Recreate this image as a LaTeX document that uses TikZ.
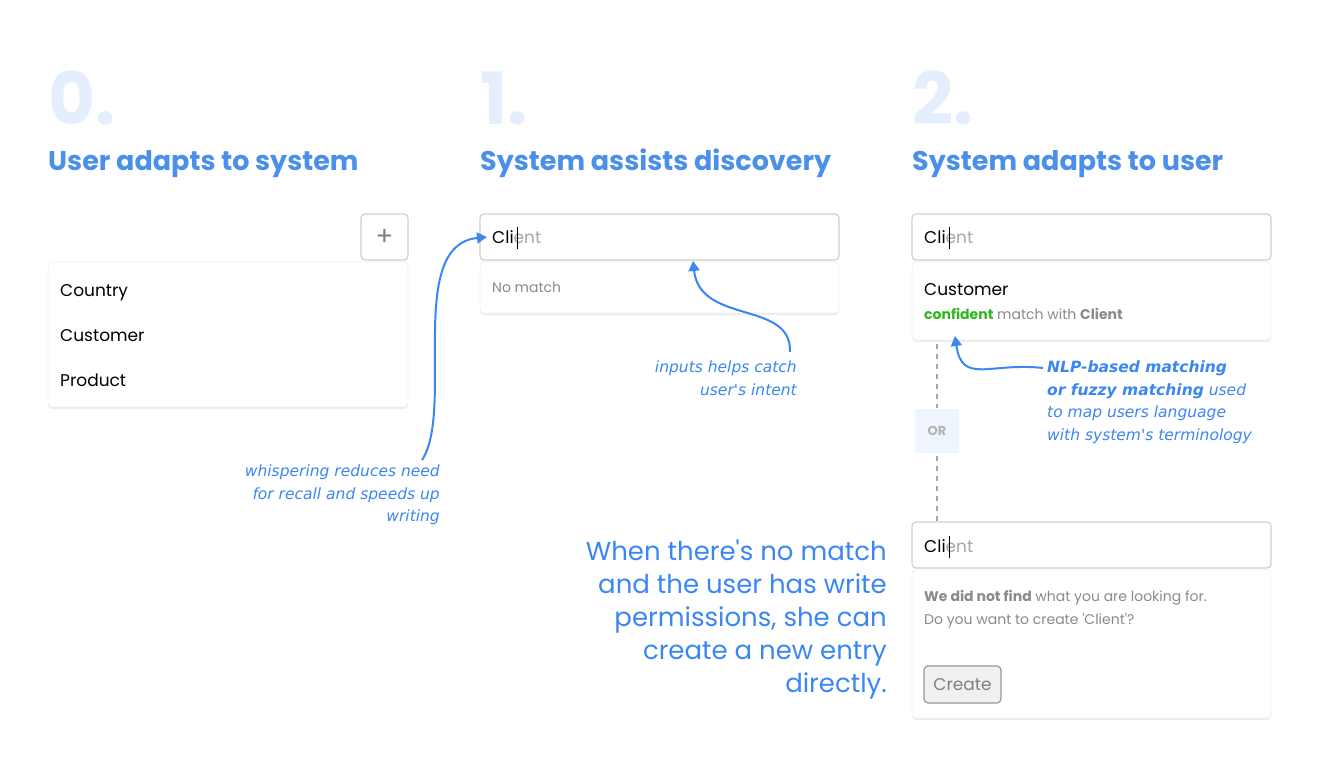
\documentclass[tikz,border=0pt]{standalone}
\usepackage{fontspec}
\setmainfont{Poppins}[Ligatures=TeXOff]
\newfontfamily\handfont{DejaVu Sans}[Ligatures=TeXOff]
\usetikzlibrary{shadows,arrows.meta}
\definecolor{headBlue}{HTML}{4A8FEA}
\definecolor{numBlue}{HTML}{E4EEFC}
\definecolor{penBlue}{HTML}{3A86F2}
\definecolor{frameGray}{HTML}{CFCFCF}
\definecolor{textGray}{HTML}{8A8A8A}
\definecolor{okGreen}{HTML}{2DB81E}
\begin{document}
\begin{tikzpicture}
[x=1pt,y=-1pt,
  bigNum/.style={anchor=base west,inner sep=0pt,text=numBlue,font=\fontsize{72}{72}\selectfont\bfseries},%
  heading/.style={anchor=base west,inner sep=0pt,text=headBlue,font=\fontsize{27}{27}\selectfont\bfseries},%
  inputBox/.style={draw=frameGray,line width=1.2pt,rounded corners=4pt,fill=white},%
  panel/.style={fill=white,draw=gray!12,line width=0.8pt,rounded corners=4pt,drop shadow={opacity=0.15,shadow xshift=0pt,shadow yshift=-2pt}},%
  item/.style={anchor=base west,inner sep=0pt,font=\fontsize{17}{17}\selectfont},%
  small/.style={anchor=base west,inner sep=0pt,text=textGray,font=\fontsize{14}{14}\selectfont},%
  note/.style={inner sep=0pt,text=penBlue,font=\fontsize{15.5}{22.5}\selectfont\handfont\itshape},%
  pen/.style={draw=penBlue,line width=2pt,-{Triangle[length=10pt,width=11pt]}},%
  orLine/.style={draw=gray!70,line width=2pt,dash pattern=on 5pt off 5pt}]
\useasboundingbox (0,0) rectangle (1320,768);
%% numbers and headings
\foreach \name/\x/\num/\txt in {zero/48/0/User adapts to system, one/480/1/System assists discovery, two/912/2/System adapts to user}
{
  \node[bigNum] (num\name) at (\x,124) {\num.};
  \node[heading] (head\name) at (\x,170) {\txt};
}
%% column 0
\draw[inputBox] (361,214) rectangle (408,260);
\node[text=gray,font=\fontsize{26}{26}\selectfont] (plus) at (384.5,237) {+};
\draw[panel] (48,262) rectangle (408,407);
\foreach \lbl/\y in {Country/296, Customer/341, Product/386}
{
  \node[item] (\lbl) at (60,\y) {\lbl};
}
%% column 1
\draw[inputBox] (480,214) rectangle (839,260);
\node[item] (inputOne) at (492,243) {Cli\textcolor{gray!70}{ent}};
\draw[line width=1pt] (517,227) -- (517,249);
\draw[panel] (480,262) rectangle (839,313);
\node[small] (nomatch) at (492,292) {No match};
\coordinate (whisperStart) at (422,460);
\coordinate (whisperEnd) at (487,237);
\draw[pen] (whisperStart) .. controls (455,410) and (405,245) .. (whisperEnd);
\node[note,align=right,anchor=north east] (whisper) at (440,465) {whispering reduces need\\for recall and speeds up\\writing};
\coordinate (catchStart) at (790,352);
\coordinate (catchEnd) at (693,261);
\draw[pen] (catchStart) .. controls (792,300) and (700,325) .. (catchEnd);
\node[note,align=right,anchor=north east] (catch) at (797,361) {inputs helps catch\\user's intent};
%% column 2
\draw[inputBox] (912,214) rectangle (1271,260);
\node[item] (inputTwo) at (924,243) {Cli\textcolor{gray!70}{ent}};
\draw[line width=1pt] (949,227) -- (949,249);
\draw[panel] (912,262) rectangle (1271,340);
\node[item] (customer) at (924,295) {Customer};
\node[small] (confident) at (924,319) {\textcolor{okGreen}{\bfseries confident} match with {\bfseries Client}};
\draw[orLine] (937,344) -- (937,408);
\fill[numBlue!60] (915,409) rectangle (959,453);
\node[text=gray!60,font=\fontsize{13}{13}\selectfont\bfseries] (or) at (937,431) {OR};
\draw[orLine] (937,456) -- (937,521);
\coordinate (nlpStart) at (1043,368);
\coordinate (nlpEnd) at (955,336);
\draw[pen] (nlpStart) .. controls (990,362) and (962,385) .. (nlpEnd);
\node[note,align=left,anchor=north west] (nlp) at (1047,361) {{\bfseries NLP-based matching}\\{\bfseries or fuzzy matching} used\\to map users language\\with system's terminology};
\draw[inputBox] (912,522) rectangle (1271,568);
\node[item] (inputThree) at (924,552) {Cli\textcolor{gray!70}{ent}};
\draw[line width=1pt] (949,536) -- (949,558);
\draw[panel] (912,570) rectangle (1271,718);
\node[small] (notfind) at (924,601) {{\bfseries We did not find} what you are looking for.};
\node[small] (wantcreate) at (924,624) {Do you want to create 'Client'?};
\draw[draw=gray!80,line width=1.2pt,fill=gray!12,rounded corners=4pt] (924,666) rectangle (1001,703);
\node[text=gray,font=\fontsize{17}{17}\selectfont] (create) at (962.5,685) {Create};
%% explanation
\node[inner sep=0pt,align=right,anchor=north east,text=penBlue,font=\fontsize{26}{33}\selectfont] (explain) at (887,540) {When there's no match\\and the user has write\\permissions, she can\\create a new entry\\directly.};
\end{tikzpicture}
\end{document}
